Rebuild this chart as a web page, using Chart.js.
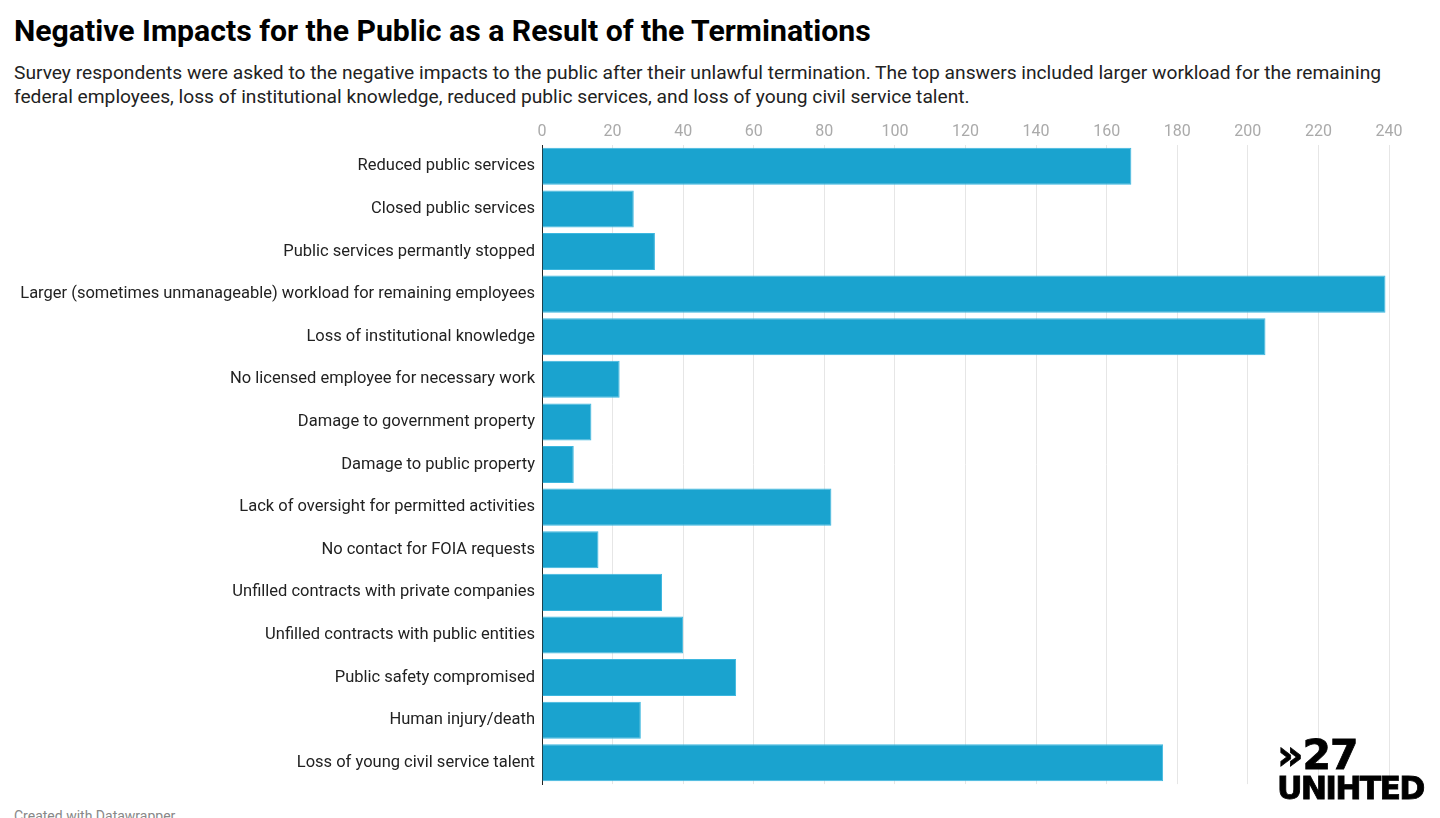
<!DOCTYPE html>
<html>
<head>
<meta charset="utf-8">
<script src="https://cdn.jsdelivr.net/npm/chart.js@4.4.1/dist/chart.umd.min.js"></script>
<style>
  html,body{margin:0;padding:0;background:#fff;width:1440px;height:818px;overflow:hidden;font-family:Roboto,"Noto Sans",sans-serif;}
  .title{position:absolute;left:14px;top:13px;font-size:30.2px;font-weight:700;color:#000;}
  .sub{position:absolute;left:14px;top:61px;width:1415px;font-size:19.2px;line-height:24px;color:#222;}
  .wrap{position:absolute;left:0;top:110px;width:1440px;height:691px;}
  .foot{position:absolute;left:14px;top:808px;font-size:14px;color:#888;}
  .logo{position:absolute;left:1277px;color:#000;font-family:"DejaVu Sans",sans-serif;font-weight:700;white-space:nowrap;-webkit-text-stroke:0.8px #000;}
  .logo.a{top:735px;font-size:41px;line-height:41px;letter-spacing:-1px;}
  .logo.b{top:773px;font-size:31.5px;line-height:31.5px;letter-spacing:-1.8px;}
</style>
</head>
<body>
<div class="title">Negative Impacts for the Public as a Result of the Terminations</div>
<div class="sub">Survey respondents were asked to the negative impacts to the public after their unlawful termination. The top answers included larger workload for the remaining federal employees, loss of institutional knowledge, reduced public services, and loss of young civil service talent.</div>
<div class="wrap"><canvas id="c"></canvas></div>
<div class="logo a">»27</div>
<div class="logo b">UNIHTED</div>
<div class="foot">Created with Datawrapper</div>
<script>
const categories = [
  'Reduced public services',
  'Closed public services',
  'Public services permantly stopped',
  'Larger (sometimes unmanageable) workload for remaining employees',
  'Loss of institutional knowledge',
  'No licensed employee for necessary work',
  'Damage to government property',
  'Damage to public property',
  'Lack of oversight for permitted activities',
  'No contact for FOIA requests',
  'Unfilled contracts with private companies',
  'Unfilled contracts with public entities',
  'Public safety compromised',
  'Human injury/death',
  'Loss of young civil service talent'
];
const counts = [167, 26, 32, 239, 205, 22, 14, 9, 82, 16, 34, 40, 55, 28, 176];
const xTicks = [0, 20, 40, 60, 80, 100, 120, 140, 160, 180, 200, 220, 240];

new Chart(document.getElementById('c'), {
  type:'bar',
  data:{ labels: categories, datasets:[{
    data: counts,
    backgroundColor:'#1aa3cf', borderColor:'#3db7df', borderWidth:1, borderSkipped:'left',
    barPercentage:0.87, categoryPercentage:1
  }]},
  options:{
    indexAxis:'y', responsive:true, maintainAspectRatio:false, animation:false,
    layout:{padding:{left:0,right:51,top:0,bottom:8}},
    plugins:{legend:{display:false}, tooltip:{enabled:false}},
    scales:{
      x:{ position:'top', min:0, max:240,
        afterBuildTicks:s=>{ s.ticks = xTicks.map(v=>({value:v})); },
        afterFit:s=>{ s.height = 35; },
        grid:{color:'#e6e6e6', drawTicks:false},
        border:{display:false},
        ticks:{padding:3, color:'#aaaaaa', font:{family:'Roboto', size:16}}
      },
      y:{
        afterFit:s=>{ s.width = 542; },
        grid:{display:false, drawTicks:false},
        border:{display:true, color:'#222', width:1},
        ticks:{padding:7, color:'#222', font:{family:'Roboto', size:16.5}}
      }
    }
  }
});
</script>
</body>
</html>
